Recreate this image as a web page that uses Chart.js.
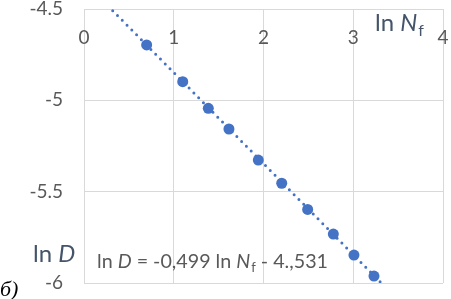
<!DOCTYPE html>
<html><head><meta charset="utf-8">
<script src="https://cdn.jsdelivr.net/npm/chart.js@4/dist/chart.umd.min.js"></script>
<style>html,body{margin:0;padding:0;background:#fff;}canvas{display:block;}</style>
</head><body>
<canvas id="c" width="451" height="299"></canvas>
<script>
const lnNf = [0.698, 1.10, 1.385, 1.615, 1.942, 2.203, 2.492, 2.778, 3.008, 3.231];
const lnD  = [-4.697, -4.898, -5.044, -5.157, -5.327, -5.454, -5.597, -5.732, -5.847, -5.962];
const trendX = [0.32, 3.31];
const trendY = [-4.509, -5.999];
const xTicks = [0, 1, 2, 3, 4];
const yTickLabels = ['-4.5', '-5', '-5.5', '-6'];
const yTickValues = [-4.5, -5, -5.5, -6];

const FONT = 'Lato, "Open Sans", sans-serif';
const BLUE = '#4472c4';

const textPlugin = {
  id: 'texts',
  afterDraw(chart) {
    const ctx = chart.ctx;
    ctx.save();
    ctx.textBaseline = 'alphabetic';
    // x axis title: ln N_f
    ctx.fillStyle = '#44546a';
    let x = 375, y = 31;
    ctx.font = '24px ' + FONT;
    ctx.fillText('ln ', x, y); x += ctx.measureText('ln ').width;
    ctx.font = 'italic 24px ' + FONT;
    ctx.fillText('N', x, y); x += ctx.measureText('N').width;
    ctx.font = '16px ' + FONT;
    ctx.fillText('f', x + 1, y + 5);
    // y axis title: ln D
    x = 33; y = 262;
    ctx.font = '24px ' + FONT;
    ctx.fillText('ln ', x, y); x += ctx.measureText('ln ').width;
    ctx.font = 'italic 24px ' + FONT;
    ctx.fillText('D', x, y);
    // б)
    ctx.fillStyle = '#000';
    ctx.font = 'italic 22px "Liberation Serif", "DejaVu Serif", serif';
    ctx.fillText('б)', 0, 296);
    // equation
    ctx.fillStyle = '#595959';
    x = 97; y = 268;
    const fs = 19.7;
    ctx.font = fs + 'px ' + FONT;
    ctx.fillText('ln ', x, y); x += ctx.measureText('ln ').width;
    ctx.font = 'italic ' + fs + 'px ' + FONT;
    ctx.fillText('D', x, y); x += ctx.measureText('D').width;
    ctx.font = fs + 'px ' + FONT;
    ctx.fillText(' = -0,499 ln ', x, y); x += ctx.measureText(' = -0,499 ln ').width;
    ctx.font = 'italic ' + fs + 'px ' + FONT;
    ctx.fillText('N', x, y); x += ctx.measureText('N').width;
    ctx.font = '13px ' + FONT;
    ctx.fillText('f', x + 1, y + 4); x += ctx.measureText('f').width + 1;
    ctx.font = fs + 'px ' + FONT;
    ctx.fillText(' - 4.,531', x, y);
    ctx.restore();
  }
};

new Chart(document.getElementById('c'), {
  type: 'scatter',
  data: {
    datasets: [
      {
        type: 'line',
        data: trendX.map((v, i) => ({x: v, y: trendY[i]})),
        borderColor: BLUE,
        borderWidth: 3,
        borderDash: [0, 6.8],
        borderCapStyle: 'round',
        pointRadius: 0,
        fill: false,
        order: 2
      },
      {
        data: lnNf.map((v, i) => ({x: v, y: lnD[i]})),
        backgroundColor: BLUE,
        borderColor: BLUE,
        pointRadius: 5.5,
        pointBorderWidth: 0,
        order: 1
      }
    ]
  },
  options: {
    responsive: false,
    animation: false,
    devicePixelRatio: 1,
    layout: { padding: { top: 9, bottom: 16, right: 8, left: 0 } },
    plugins: { legend: { display: false }, tooltip: { enabled: false } },
    scales: {
      x: {
        type: 'linear',
        position: { y: -4.595 },
        min: 0, max: 4,
        afterBuildTicks: s => { s.ticks = xTicks.map(v => ({value: v})); },
        afterFit: s => { s.height = 0; s.paddingLeft = 0; s.paddingRight = 0; s.paddingTop = 0; s.paddingBottom = 0; },
        ticks: { color: '#595959', font: { family: FONT, size: 19 }, padding: 0 },
        grid: { color: '#d9d9d9', lineWidth: 1, drawTicks: false },
        border: { display: false }
      },
      y: {
        type: 'linear',
        min: -6, max: -4.5,
        afterBuildTicks: s => { s.ticks = yTickValues.map(v => ({value: v})); },
        afterFit: s => { s.width = 84; s.paddingTop = 0; s.paddingBottom = 0; },
        ticks: {
          color: '#595959', font: { family: FONT, size: 19 }, padding: 21,
          callback: (v) => { const i = yTickValues.indexOf(v); return i >= 0 ? yTickLabels[i] : ''; }
        },
        grid: { color: '#d9d9d9', lineWidth: 1, drawTicks: false },
        border: { display: false }
      }
    }
  },
  plugins: [textPlugin]
});
</script>
</body></html>
